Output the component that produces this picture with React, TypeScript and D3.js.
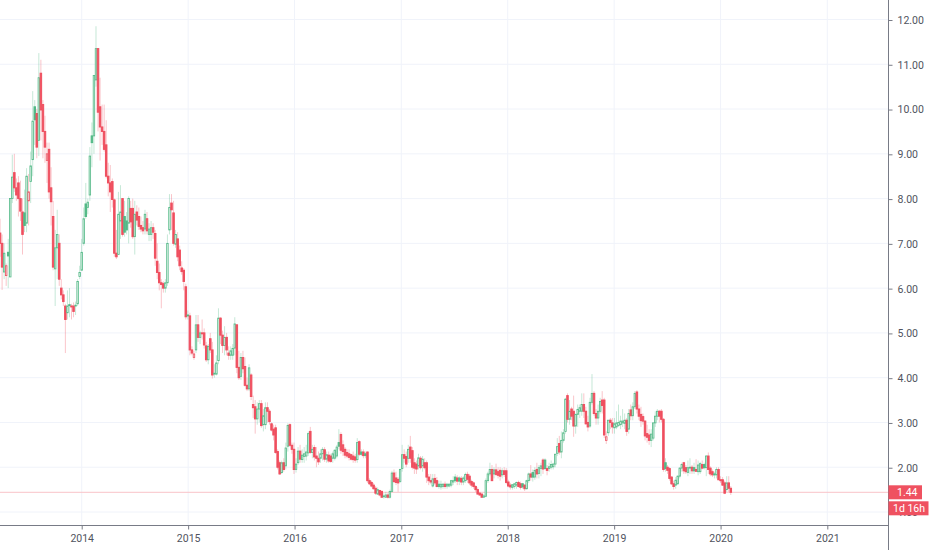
import React, { useEffect, useRef } from "react";
import * as d3 from "d3";

type Row = [number, number, number, number];

// weekly rows: open, high, low, close
const ohlc2013: Row[] = [
  [7.23,7.55,6.7,7.0],[7.0,7.2,5.96,6.47],[6.36,7.0,6.2,6.78],[6.28,6.55,6.05,6.5],[6.8,7.1,6.0,6.72],
  [6.25,8.0,6.25,8.0],[8.0,8.98,7.9,8.48],[8.58,9.0,8.15,8.24],[8.24,8.45,7.95,8.08],[8.35,8.5,7.6,8.0],
  [8.0,8.4,7.5,7.72],[7.7,8.0,6.75,7.2],[7.68,8.2,7.25,7.4],[7.45,8.68,7.25,8.5],[7.95,8.55,7.4,8.15],
  [8.38,9.05,7.9,8.73],[8.87,10.4,8.5,9.73],[10.05,10.2,9.2,9.76],[9.9,10.0,8.9,9.15],[9.3,11.25,8.95,10.7],
  [10.8,11.1,9.3,9.98],[10.1,10.2,8.9,9.5],[9.5,9.85,8.8,9.15],[8.85,9.25,8.35,9.0],[9.1,9.25,8.0,8.15],
  [8.24,8.7,7.4,7.93],[7.6,7.95,6.4,6.47],[6.43,7.3,5.6,6.9],[6.9,7.75,6.2,7.2],[7.0,7.2,6.05,6.2],
  [6.0,6.2,5.75,5.85],[5.85,5.95,5.6,5.7],[5.6,5.65,4.55,5.3],[5.45,5.95,5.3,5.6],[5.63,6.0,5.35,5.61],
  [5.6,5.65,5.3,5.58],[5.6,5.68,5.35,5.48],[5.6,5.7,5.4,5.62],[5.65,6.2,5.6,6.15],[6.26,6.5,6.2,6.35],
];

const ohlc2014: Row[] = [
  [6.4,7.1,6.4,6.8],[7.0,7.8,6.95,7.55],[7.88,8.35,7.55,7.6],[7.8,8.0,7.65,7.92],[8.08,9.15,7.95,8.95],
  [9.4,9.7,8.7,9.25],[9.4,10.75,9.0,10.75],[10.65,11.85,10.5,11.35],[11.35,11.35,9.5,9.93],[10.05,10.7,8.85,9.6],
  [9.6,10.1,9.2,9.5],[9.5,10.1,9.05,9.1],[9.2,9.75,8.45,8.5],[8.5,8.8,8.05,8.35],[8.35,8.75,7.7,8.15],
  [8.38,8.45,7.8,7.98],[7.97,8.0,6.7,6.78],[6.78,7.3,6.65,6.7],[6.75,8.15,6.75,7.65],[7.5,8.3,7.1,7.7],
  [8.0,8.0,7.15,7.2],[7.6,7.95,7.15,7.25],[7.5,7.7,7.2,7.3],[7.45,8.05,7.0,8.0],[7.78,7.95,7.35,7.48],
  [7.78,8.0,7.1,7.15],[7.15,7.95,6.75,7.65],[7.7,7.85,7.4,7.52],[7.6,7.8,7.3,7.38],[7.4,7.6,7.25,7.32],
  [7.35,7.5,7.2,7.28],[7.32,7.75,7.2,7.65],[7.55,7.7,7.2,7.28],[7.2,7.45,7.05,7.32],[7.2,7.5,7.05,7.35],
  [7.35,7.45,7.1,7.25],[7.22,7.3,6.5,6.67],[6.6,7.0,6.2,6.35],[6.35,6.55,5.95,6.12],[6.12,6.2,5.55,6.08],
  [6.1,6.15,5.9,6.0],[6.0,6.2,5.9,6.12],[6.12,7.2,6.05,7.0],[7.3,8.1,7.2,7.8],[7.9,8.1,7.3,7.75],
  [7.68,7.95,6.95,7.0],[6.98,7.3,6.9,7.2],[7.1,7.25,6.6,6.7],[6.85,6.95,6.4,6.5],[6.45,6.6,6.3,6.37],
  [6.4,6.45,5.95,6.15],[6.03,6.1,5.3,5.36],
];

const ohlc2015: Row[] = [
  [5.4,5.5,5.3,5.38],[5.38,5.45,4.5,4.62],[4.62,4.7,4.5,4.55],[4.45,4.6,4.4,4.53],[4.62,5.4,4.55,5.18],
  [5.18,5.4,4.8,4.9],[4.9,5.05,4.75,5.0],[5.0,5.3,4.85,4.98],[5.0,5.1,4.65,4.73],[4.71,4.8,4.35,4.4],
  [4.4,4.75,4.3,4.7],[4.87,5.0,4.55,4.62],[4.62,4.8,3.98,4.06],[4.08,4.3,4.0,4.1],[4.08,4.5,4.05,4.33],
  [4.38,5.55,4.3,5.33],[5.33,5.35,4.75,4.95],[4.95,5.05,4.55,4.72],[4.72,5.15,4.5,4.9],[4.9,5.0,4.5,4.62],
  [4.55,4.7,4.4,4.5],[4.5,4.7,4.4,4.6],[4.5,4.75,4.4,4.65],[4.66,5.35,4.5,5.2],[5.18,5.2,4.1,4.23],
  [4.23,4.6,3.95,4.0],[4.03,4.55,3.95,4.45],[4.45,4.6,4.1,4.2],[4.25,4.45,3.8,3.83],[3.83,4.0,3.7,3.75],
  [3.75,4.3,3.7,4.22],[4.06,4.1,3.5,3.58],[3.4,3.6,3.1,3.33],[3.35,3.5,2.75,3.08],[3.08,3.45,2.95,3.3],
  [3.3,3.5,3.0,3.42],[3.42,3.5,2.88,2.93],[2.95,3.3,2.8,3.15],[2.95,3.45,2.85,3.33],[3.33,3.45,3.0,3.25],
  [3.25,3.3,2.95,3.02],[2.97,3.0,2.8,2.83],[2.85,2.95,2.6,2.72],[2.88,2.95,2.3,2.33],[2.35,2.4,1.95,2.0],
  [2.1,2.15,1.83,1.85],[1.88,2.15,1.85,2.1],[2.1,2.2,1.9,1.95],[2.03,2.55,1.95,2.43],[2.47,2.98,2.35,2.93],
  [2.95,2.98,2.45,2.49],[2.49,2.55,2.3,2.4],
];

const ohlc2016: Row[] = [
  [2.4,2.55,1.85,1.95],[1.95,2.2,1.88,2.07],[2.1,2.45,2.05,2.36],[2.36,2.5,2.1,2.18],[2.17,2.4,2.1,2.27],
  [2.24,2.45,2.1,2.3],[2.25,2.5,2.15,2.34],[2.32,2.8,2.25,2.75],[2.8,2.9,2.3,2.33],[2.33,2.5,2.2,2.4],
  [2.44,2.5,2.15,2.23],[2.25,2.45,2.0,2.2],[2.2,2.35,2.05,2.12],[2.2,2.4,2.1,2.3],[2.3,2.45,2.15,2.4],
  [2.39,2.45,2.12,2.18],[2.18,2.35,2.1,2.28],[2.27,2.35,2.1,2.14],[2.25,2.3,2.1,2.13],[2.2,2.35,2.1,2.3],
  [2.2,2.4,2.15,2.38],[2.25,2.5,2.2,2.45],[2.55,2.85,2.4,2.47],[2.73,2.78,2.3,2.38],[2.5,2.6,2.25,2.35],
  [2.4,2.45,2.2,2.27],[2.33,2.4,2.2,2.25],[2.3,2.4,2.15,2.22],[2.28,2.3,2.15,2.18],[2.25,2.35,2.1,2.17],
  [2.23,2.3,2.1,2.16],[2.17,2.65,2.1,2.55],[2.57,2.6,2.25,2.29],[2.34,2.4,2.25,2.29],[2.34,2.4,2.2,2.26],
  [2.3,2.35,2.2,2.26],[2.34,2.35,1.65,1.7],[1.7,1.75,1.6,1.63],[1.66,1.7,1.55,1.58],[1.6,1.65,1.5,1.52],
  [1.53,1.58,1.38,1.42],[1.4,1.55,1.38,1.5],[1.48,1.5,1.35,1.38],[1.46,1.48,1.32,1.33],[1.34,1.42,1.3,1.36],
  [1.33,1.45,1.32,1.38],[1.38,1.42,1.3,1.33],[1.33,1.5,1.3,1.46],[1.46,1.92,1.44,1.87],[1.87,1.95,1.65,1.68],
  [1.76,1.9,1.6,1.66],[1.73,1.78,1.45,1.65],
];

const ohlc2017: Row[] = [
  [1.68,1.97,1.65,1.95],[1.97,2.5,1.9,2.28],[2.28,2.4,2.1,2.2],[2.24,2.35,2.0,2.07],[2.2,2.5,2.1,2.4],
  [2.45,2.7,2.1,2.2],[2.37,2.45,1.95,2.0],[2.1,2.2,1.85,1.98],[2.07,2.15,1.85,1.96],[2.03,2.3,1.95,2.21],
  [2.2,2.25,1.95,1.99],[2.03,2.25,1.9,2.18],[2.1,2.2,1.95,1.99],[2.1,2.15,1.65,1.78],[1.78,1.85,1.6,1.7],
  [1.7,1.85,1.62,1.67],[1.58,1.85,1.55,1.74],[1.75,1.85,1.6,1.65],[1.7,1.78,1.55,1.57],[1.62,1.7,1.52,1.57],
  [1.56,1.7,1.5,1.62],[1.57,1.65,1.52,1.62],[1.62,1.68,1.52,1.57],[1.58,1.65,1.52,1.62],[1.58,1.65,1.55,1.62],
  [1.6,1.72,1.55,1.7],[1.67,1.8,1.6,1.7],[1.78,1.85,1.65,1.7],[1.76,1.82,1.6,1.69],[1.76,1.8,1.6,1.69],
  [1.75,1.8,1.6,1.67],[1.67,1.8,1.6,1.76],[1.7,1.88,1.65,1.84],[1.84,1.9,1.65,1.73],[1.8,1.85,1.6,1.65],
  [1.68,1.72,1.55,1.6],[1.65,1.68,1.52,1.57],[1.57,1.6,1.45,1.5],[1.5,1.55,1.4,1.4],[1.42,1.45,1.36,1.38],
  [1.4,1.42,1.32,1.33],[1.33,1.4,1.32,1.36],[1.35,1.75,1.33,1.7],[1.7,1.9,1.65,1.85],[1.85,2.1,1.8,1.95],
  [1.95,2.05,1.7,1.7],[1.85,2.0,1.75,1.94],[1.94,2.08,1.8,1.84],[1.9,2.0,1.75,1.82],[1.93,2.0,1.7,1.8],
  [1.83,1.98,1.75,1.92],[1.92,2.0,1.78,1.84],
];

const ohlc2018: Row[] = [
  [1.92,1.98,1.62,1.66],[1.67,1.72,1.55,1.58],[1.6,1.65,1.5,1.56],[1.55,1.62,1.5,1.61],[1.57,1.65,1.52,1.63],
  [1.6,1.68,1.52,1.66],[1.66,1.7,1.55,1.57],[1.63,1.68,1.5,1.55],[1.63,1.65,1.52,1.56],[1.6,1.62,1.47,1.52],
  [1.52,1.72,1.5,1.7],[1.7,1.88,1.65,1.85],[1.85,2.05,1.7,1.78],[1.88,1.95,1.68,1.78],[1.78,2.0,1.72,1.93],
  [1.95,2.1,1.75,1.85],[1.86,2.05,1.75,1.99],[1.97,2.1,1.8,2.03],[2.16,2.2,1.85,1.96],[2.16,2.2,1.95,1.97],
  [1.97,2.05,1.82,1.93],[1.97,2.1,1.9,2.01],[2.0,2.15,1.95,2.06],[2.01,2.1,1.95,2.07],[2.07,2.3,2.0,2.29],
  [2.31,2.65,2.25,2.46],[2.53,2.7,2.28,2.34],[2.34,2.8,2.2,2.6],[2.6,2.85,2.55,2.77],[2.8,3.55,2.75,3.52],
  [3.6,3.65,3.0,3.07],[3.07,3.5,2.95,3.25],[3.3,3.35,3.05,3.14],[3.25,3.6,2.68,2.92],[2.92,3.2,2.75,3.18],
  [3.18,3.4,2.9,3.29],[3.25,3.4,3.1,3.33],[3.25,3.65,3.15,3.4],[3.4,3.65,3.1,3.25],[3.25,3.35,2.95,2.97],
  [3.0,3.15,2.8,2.9],[2.92,3.55,2.88,3.45],[3.45,4.08,3.4,3.65],[3.65,3.7,3.15,3.2],[3.2,3.3,2.95,3.1],
  [3.1,3.4,2.95,3.25],[3.25,3.55,3.2,3.47],[3.5,3.7,3.2,3.38],[3.5,3.55,2.65,2.72],[2.6,2.8,2.52,2.68],
  [2.77,3.05,2.7,3.05],[3.05,3.1,2.85,3.0],
];

const ohlc2019: Row[] = [
  [2.99,3.1,2.75,2.9],[2.88,3.1,2.75,2.97],[2.9,3.25,2.85,2.99],[2.93,3.4,2.9,3.0],[2.95,3.15,2.85,3.03],
  [2.99,3.3,2.9,3.03],[2.98,3.2,2.85,3.05],[3.05,3.1,2.7,2.8],[2.85,3.3,2.75,3.2],[3.28,3.4,3.05,3.15],
  [3.15,3.45,3.05,3.35],[3.35,3.7,3.3,3.65],[3.68,3.72,3.2,3.3],[3.3,3.4,3.05,3.14],[3.18,3.35,2.9,3.04],
  [3.13,3.2,2.95,3.03],[3.03,3.05,2.6,2.7],[2.75,2.95,2.55,2.67],[2.72,2.85,2.5,2.6],[2.6,2.85,2.45,2.74],
  [2.65,3.0,2.6,2.99],[2.99,3.25,2.9,3.14],[3.14,3.3,3.05,3.25],[3.25,3.28,3.0,3.14],[3.25,3.3,3.0,3.07],
  [3.07,3.1,1.9,1.95],[2.1,2.2,1.9,1.97],[2.0,2.05,1.85,1.93],[1.97,2.0,1.7,1.75],[1.78,1.8,1.6,1.63],
  [1.63,1.7,1.5,1.57],[1.6,1.78,1.52,1.71],[1.63,1.82,1.6,1.8],[1.8,2.0,1.75,1.98],[1.98,2.1,1.9,2.06],
  [2.1,2.12,1.85,1.92],[1.99,2.05,1.85,1.9],[1.88,2.15,1.8,1.99],[1.98,2.2,1.85,2.0],[2.0,2.05,1.85,1.92],
  [1.99,2.1,1.85,1.92],[1.95,2.18,1.9,1.91],[1.9,2.15,1.82,2.05],[1.9,2.12,1.85,2.08],[2.06,2.15,1.95,1.98],
  [2.06,2.1,1.95,1.99],[1.99,2.27,1.8,2.25],[2.25,2.33,1.85,1.95],[1.98,2.02,1.8,1.85],[1.9,1.95,1.78,1.83],
  [1.85,1.9,1.75,1.83],[1.83,2.0,1.75,1.95],
];

const ohlc2020: Row[] = [
  [1.95,2.0,1.72,1.72],[1.72,1.8,1.65,1.7],[1.72,1.78,1.58,1.6],[1.65,1.7,1.4,1.42],
  [1.5,1.8,1.45,1.65],[1.65,1.8,1.45,1.53],[1.53,1.58,1.38,1.44],
];

const priceTicks = [1, 2, 3, 4, 5, 6, 7, 8, 9, 10, 11, 12];
const yearTicks = [2014, 2015, 2016, 2017, 2018, 2019, 2020, 2021];
const lastPrice = 1.44;
const countdown = "1d 16h";

const GREEN = "#53b987";
const RED = "#ef4f5f";
const FONT = "Roboto, sans-serif";

export default function App() {
  const svgRef = useRef<SVGSVGElement>(null);

  useEffect(() => {
    if (!svgRef.current) return;
    const svg = d3.select(svgRef.current);
    svg.selectAll("*").remove();

    const width = 932;
    const height = 550;
    const axisX = 888.5;
    const axisY = 525.5;

    const rows = [
      ...ohlc2013, ...ohlc2014, ...ohlc2015, ...ohlc2016,
      ...ohlc2017, ...ohlc2018, ...ohlc2019, ...ohlc2020,
    ];
    const weekMs = 7 * 24 * 3600 * 1000;
    const firstWeek = Date.UTC(2013, 2, 27);
    const candles = rows.map(([open, high, low, close], i) => ({
      date: new Date(firstWeek + i * weekMs),
      open, high, low, close,
      // hollow candles: colour compares with the previous close
      up: i === 0 ? close >= open : close >= rows[i - 1][3],
      hollow: close > open,
    }));

    const x = d3
      .scaleUtc()
      .domain([new Date(Date.UTC(2014, 0, 1)), new Date(Date.UTC(2021, 0, 1))])
      .range([81.7, 827.3]);
    const y = d3.scaleLinear().domain([12, 1]).range([19.5, 512]);
    const yearDates = yearTicks.map((t) => new Date(Date.UTC(t, 0, 1)));

    svg.append("rect").attr("width", width).attr("height", height).attr("fill", "#fff");

    // Grid
    svg.append("g")
      .selectAll("line")
      .data(priceTicks)
      .enter()
      .append("line")
      .attr("x1", 0)
      .attr("x2", axisX)
      .attr("y1", (d) => y(d))
      .attr("y2", (d) => y(d))
      .attr("stroke", "#f0f3fa");
    svg.append("g")
      .selectAll("line")
      .data(yearDates)
      .enter()
      .append("line")
      .attr("x1", (d) => x(d))
      .attr("x2", (d) => x(d))
      .attr("y1", 0)
      .attr("y2", axisY)
      .attr("stroke", "#f0f3fa");

    // Last price line
    svg.append("line")
      .attr("x1", 0)
      .attr("x2", axisX)
      .attr("y1", y(lastPrice))
      .attr("y2", y(lastPrice))
      .attr("stroke", "#f9c4c9");

    // Wicks
    svg.append("g")
      .selectAll("line")
      .data(candles)
      .enter()
      .append("line")
      .attr("x1", (d) => x(d.date))
      .attr("x2", (d) => x(d.date))
      .attr("y1", (d) => y(d.high))
      .attr("y2", (d) => y(d.low))
      .attr("stroke", (d) => (d.up ? GREEN : RED))
      .attr("stroke-opacity", 0.33)
      .attr("stroke-width", 1);

    // Bodies
    svg.append("g")
      .selectAll("rect")
      .data(candles)
      .enter()
      .append("rect")
      .attr("x", (d) => x(d.date) - 0.75)
      .attr("width", 1.5)
      .attr("y", (d) => y(Math.max(d.open, d.close)))
      .attr("height", (d) => Math.max(0.5, Math.abs(y(d.open) - y(d.close))))
      .attr("fill", (d) => (d.hollow ? "#e8f5ee" : d.up ? GREEN : RED))
      .attr("stroke", (d) => (d.up ? GREEN : RED))
      .attr("stroke-width", (d) => (d.hollow ? 0.8 : 1));

    // Axes
    const right = svg
      .append("g")
      .attr("transform", `translate(${axisX},0.5)`)
      .call(
        d3
          .axisRight(y)
          .tickValues(priceTicks)
          .tickFormat((d) => d3.format(".2f")(d as number))
          .tickSize(4)
          .tickPadding(5),
      );
    right.select(".domain").remove();
    right.selectAll("line").attr("stroke", "#787b86");
    right
      .selectAll("text")
      .attr("fill", "#50535e")
      .style("font-family", FONT)
      .style("font-size", "10.5px");

    const bottom = svg
      .append("g")
      .attr("transform", `translate(0,${axisY})`)
      .call(
        d3
          .axisBottom(x)
          .tickValues(yearDates)
          .tickFormat((d) => d3.utcFormat("%Y")(d as Date))
          .tickSize(4)
          .tickPadding(5),
      );
    bottom.select(".domain").remove();
    bottom.selectAll("line").attr("stroke", "#787b86");
    bottom
      .selectAll("text")
      .attr("fill", "#50535e")
      .style("font-family", FONT)
      .style("font-size", "10.5px");

    svg.append("line")
      .attr("x1", axisX)
      .attr("x2", axisX)
      .attr("y1", 0)
      .attr("y2", height)
      .attr("stroke", "#787b86");
    svg.append("line")
      .attr("x1", 0)
      .attr("x2", axisX)
      .attr("y1", axisY)
      .attr("y2", axisY)
      .attr("stroke", "#787b86");

    // Price and countdown tags
    const py = y(lastPrice);
    svg.append("rect")
      .attr("x", axisX)
      .attr("y", py - 7)
      .attr("width", 33.5)
      .attr("height", 14)
      .attr("fill", "#ef5160");
    svg.append("text")
      .attr("x", 897)
      .attr("y", py + 3.7)
      .attr("fill", "#fff")
      .style("font-family", FONT)
      .style("font-size", "10.5px")
      .text(d3.format(".2f")(lastPrice));
    svg.append("rect")
      .attr("x", axisX)
      .attr("y", py + 9)
      .attr("width", 40)
      .attr("height", 14)
      .attr("fill", "#ef5160");
    svg.append("text")
      .attr("x", 893)
      .attr("y", py + 19.7)
      .attr("fill", "#fff")
      .style("font-family", FONT)
      .style("font-size", "10.5px")
      .text(countdown);
  }, []);

  return (
    <svg
      ref={svgRef}
      width={932}
      height={550}
      style={{ position: "fixed", left: 0, top: 0, display: "block" }}
    />
  );
}
